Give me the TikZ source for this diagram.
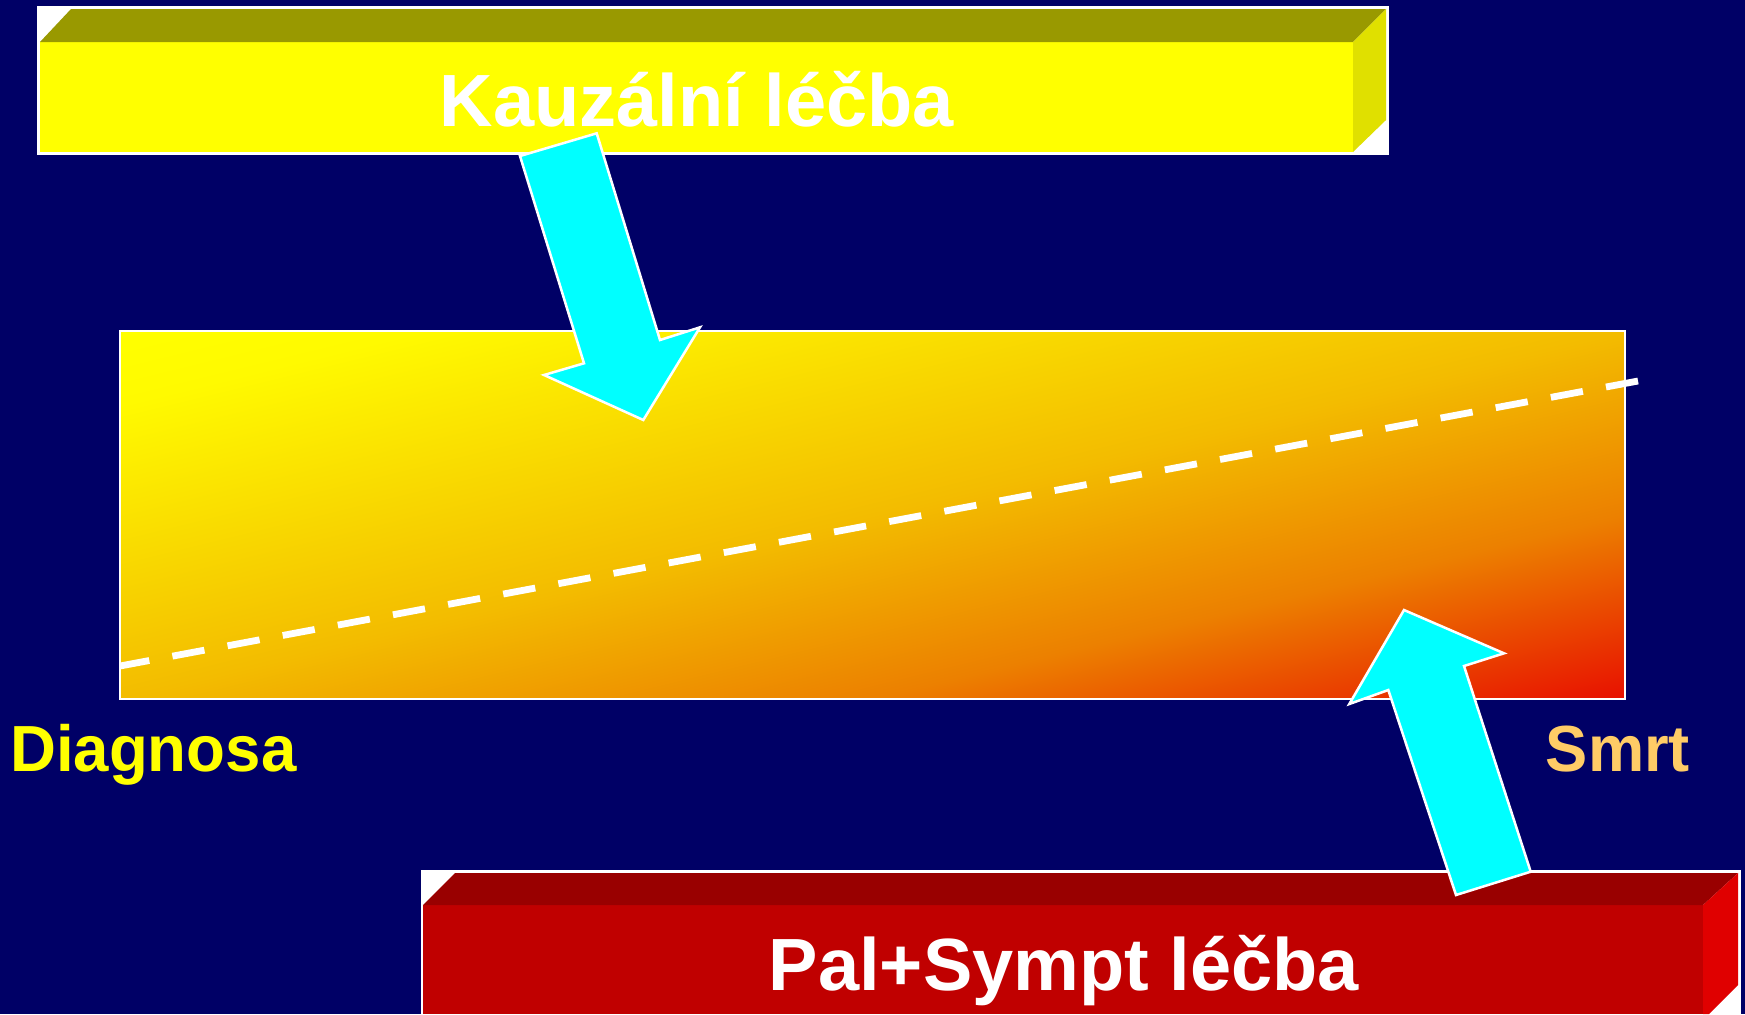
\documentclass[tikz,border=0pt]{standalone}
\usepackage{fontspec}
\setmainfont{Liberation Sans}
\definecolor{bgnavy}{RGB}{0,0,102}
\definecolor{yelfront}{RGB}{255,255,0}
\definecolor{yeltop}{RGB}{153,153,0}
\definecolor{yelside}{RGB}{224,224,0}
\definecolor{redfront}{RGB}{192,0,0}
\definecolor{redtop}{RGB}{153,0,0}
\definecolor{redside}{RGB}{224,0,0}
\definecolor{arrowcyan}{RGB}{0,255,255}
\definecolor{smrtcol}{RGB}{255,204,102}
\definecolor{gradtop}{RGB}{255,255,0}
\definecolor{gradlite}{RGB}{255,250,0}
\definecolor{gradmid}{RGB}{243,188,0}
\definecolor{gradora}{RGB}{236,128,0}
\definecolor{gradbot}{RGB}{232,16,0}
\pgfdeclareverticalshading{timegrad}{100bp}{color(0bp)=(gradbot); color(25bp)=(gradbot); color(37.5bp)=(gradora); color(50bp)=(gradmid); color(70bp)=(gradlite); color(75bp)=(gradtop); color(100bp)=(gradtop)}
\tikzset{
  bigarrow/.style={fill=arrowcyan, draw=white, line width=1.25pt, line join=miter},
  boxtext/.style={inner sep=0pt, anchor=base, text=white, font=\fontsize{37}{40}\selectfont\bfseries},
  sidetext/.style={inner sep=0pt, anchor=base, font=\fontsize{32.6}{36}\selectfont\bfseries},
  timeline/.style={white, line width=3.4pt, dash pattern=on 16.3pt off 11.75pt}
}
\begin{document}
\begin{tikzpicture}[x=0.5pt,y=-0.5pt]
\useasboundingbox (0,0) rectangle (1745,1014);
\fill[bgnavy] (0,0) rectangle (1745,1014);
% top box
\fill[white] (37,6) rectangle (1389,155);
\fill[yelfront] (40,42) rectangle (1353,152);
\fill[yeltop] (40,42) -- (71,9) -- (1386,9) -- (1353,42) -- cycle;
\fill[yelside] (1353,42) -- (1386,9) -- (1386,120) -- (1353,152) -- cycle;
\node[boxtext] (kauz) at (697,126) {Kauzální léčba};
% bottom box
\fill[white] (421,870) rectangle (1741,1014);
\fill[redfront] (423,905) rectangle (1703,1014);
\fill[redtop] (423,905) -- (455,873) -- (1738,873) -- (1703,905) -- cycle;
\fill[redside] (1703,905) -- (1738,873) -- (1738,985) -- (1709,1014) -- (1703,1014) -- cycle;
\node[boxtext] (pal) at (1064,990) {Pal+Sympt léčba};
% gradient box (diagonal gradient in box-normalised coordinates)
\begin{scope}[transform canvas={cm={7.525,1.84,0,3.68,(60pt,-533.5pt)}}]
  \shade[shading=timegrad] (0pt,100pt) -- (100pt,50pt) -- (100pt,0pt) -- (0pt,50pt) -- cycle;
\end{scope}
\draw[white, line width=1pt] (120,331) rectangle (1625,699);
% dashed line
\coordinate (dashR) at (1638,381);
\coordinate (dashL) at (120,666);
\draw[timeline] (dashR) -- (dashL);
% side labels
\node[sidetext, text=yelfront] (diag) at (153.3,771.7) {\scalebox{0.975}[1]{Diagnosa}};
\node[sidetext, text=smrtcol] (smrt) at (1618,771.7) {\scalebox{0.97}[1]{Smrt}};
% arrows
\filldraw[bigarrow] (520,156) -- (596.7,133.3) -- (660,340) -- (700,327.3) -- (643.3,420) -- (544,375) -- (584,363.3) -- cycle;
\filldraw[bigarrow] (1404,610) -- (1504,653.3) -- (1464,666) -- (1530.7,871.7) -- (1456,895) -- (1388.3,690) -- (1349.3,704) -- cycle;
\end{tikzpicture}
\end{document}
